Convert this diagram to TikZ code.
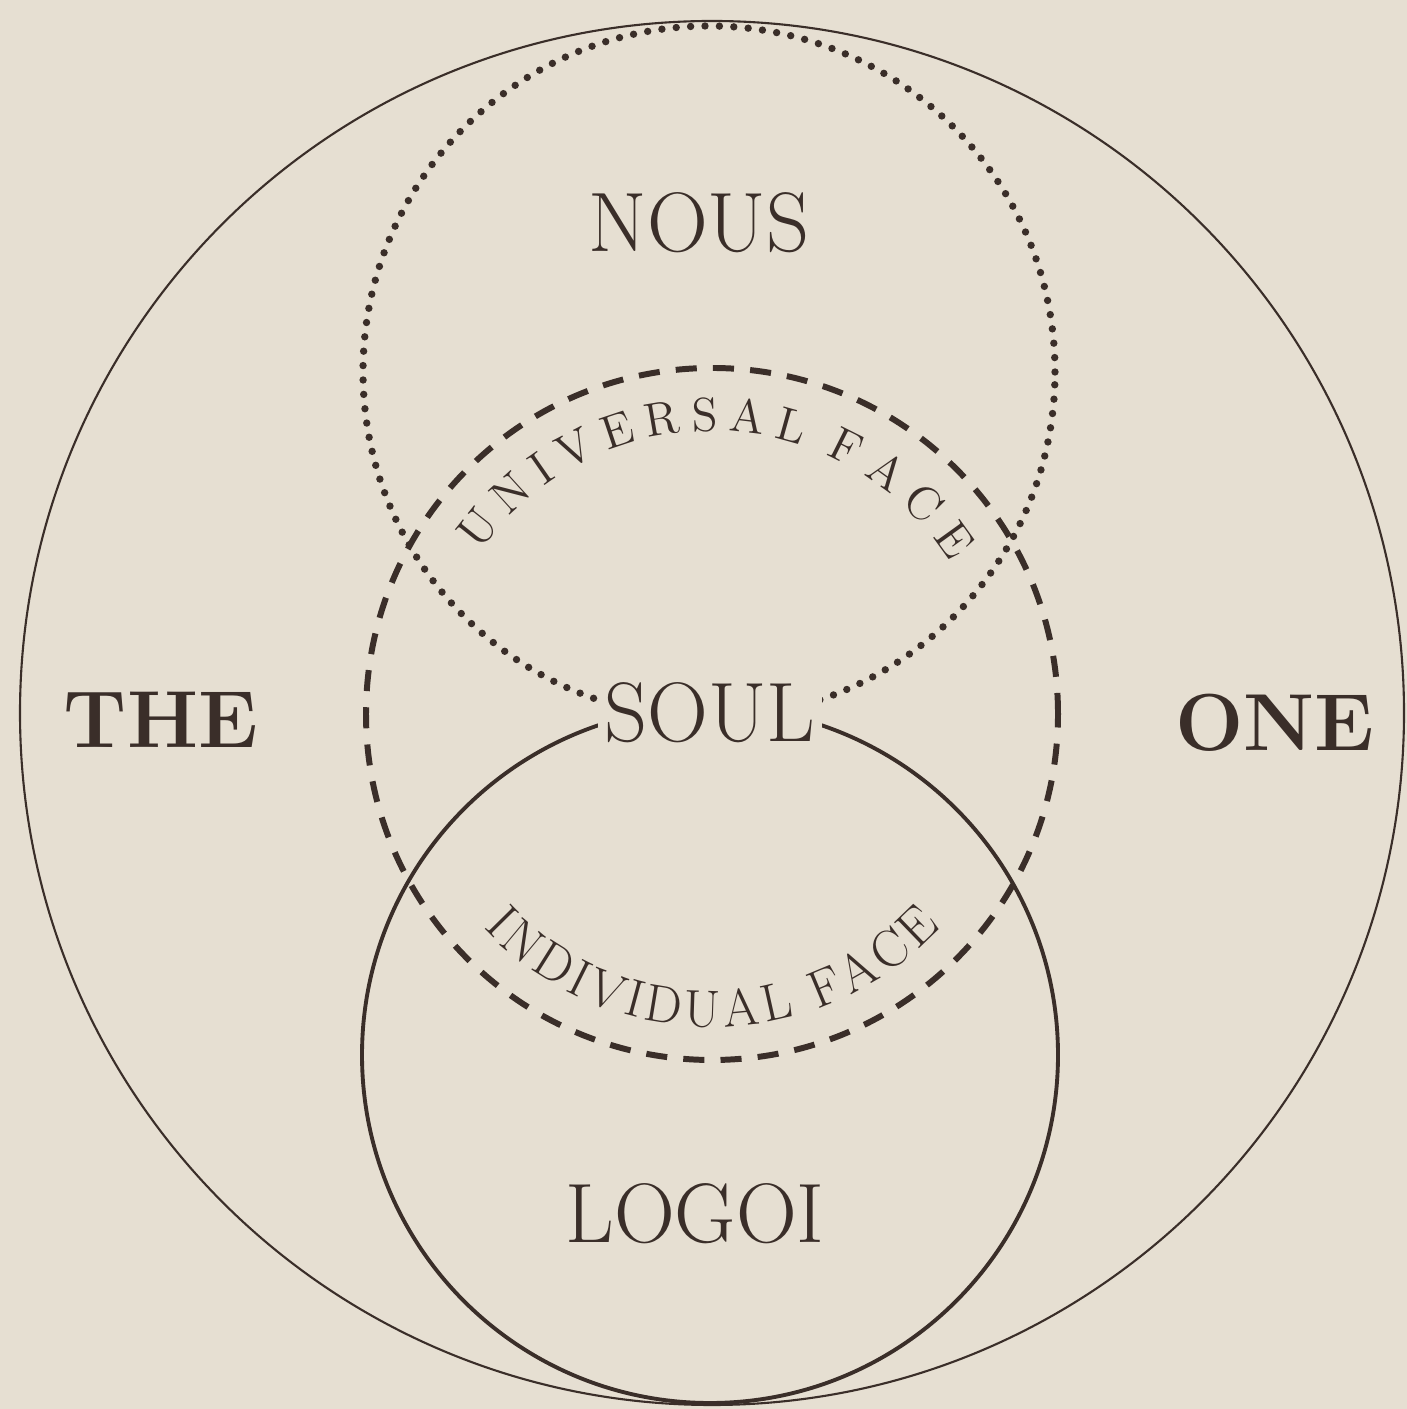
\documentclass[tikz,border=0pt]{standalone}
\usetikzlibrary{decorations.text,calc}
\definecolor{bg}{HTML}{E6DFD2}
\definecolor{ink}{HTML}{3A2E29}
\begin{document}
\begin{tikzpicture}[
  bigc/.style={draw=ink, line width=0.6pt},
  logoic/.style={draw=ink, line width=1.1pt},
  soulc/.style={draw=ink, line width=1.7pt, dash pattern=on 6pt off 4.6pt},
  nousc/.style={draw=ink, line width=2.1pt, line cap=round, dash pattern=on 0pt off 4.1pt},
  lbl/.style={text=ink, font=\fontsize{24}{24}\selectfont, anchor=base, inner sep=0pt},
  boldlbl/.style={lbl, font=\fontsize{23}{23}\selectfont\bfseries},
]
\fill[bg] (0,0) rectangle (14.07,14.09);
\useasboundingbox (0,0) rectangle (14.07,14.09);
\coordinate (cBig) at (7.12,6.96);
\coordinate (cNous) at (7.09,10.37);
\coordinate (cSoul) at (7.12,6.95);
\coordinate (cLogoi) at (7.10,3.54);
\draw[bigc] (cBig) circle (6.92);
\draw[nousc] (cNous) circle (3.46);
\draw[soulc] (cSoul) circle (3.46);
\draw[logoic] (cLogoi) circle (3.48);
\node[lbl] (nous) at (6.99,11.57) {NOUS};
\node[lbl, fill=bg, inner sep=2pt] (soul) at (7.10,6.67) {SOUL};
\node[lbl] (logoi) at (6.95,1.66) {LOGOI};
\node[boldlbl] (the) at (1.61,6.61) {THE};
\node[boldlbl] (one) at (12.75,6.58) {ONE};
\path[decorate, decoration={text along path, text align=fit to path,
  text={|\fontsize{13.5}{13.5}\selectfont\color{ink}|UNIVERSAL}}]
  ($(cSoul)+(145:2.83)$) arc[start angle=145, end angle=71.5, radius=2.83];
\path[decorate, decoration={text along path, text align=fit to path,
  text={|\fontsize{13.5}{13.5}\selectfont\color{ink}|FACE}}]
  ($(cSoul)+(66.5:2.83)$) arc[start angle=66.5, end angle=32.5, radius=2.83];
\path[decorate, decoration={text along path, text align=fit to path,
  text={|\fontsize{15}{15}\selectfont\color{ink}|INDIVIDUAL FACE}}]
  ($(cSoul)+(223:3.13)$) arc[start angle=223, end angle=317, radius=3.13];
\end{tikzpicture}
\end{document}
